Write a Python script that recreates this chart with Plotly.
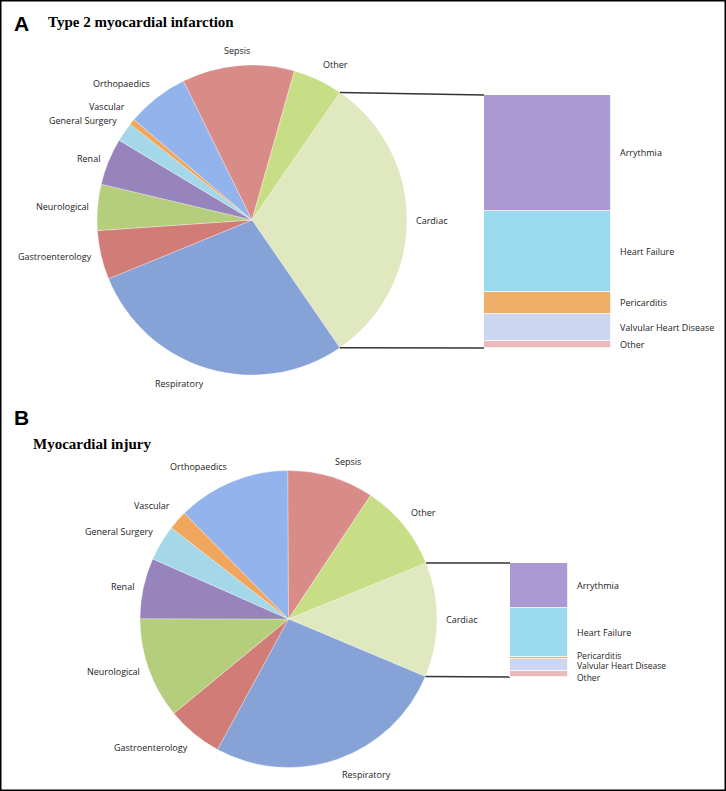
import math
import plotly.graph_objects as go

# ---------------- data ----------------
causes = ["Cardiac", "Respiratory", "Gastroenterology", "Neurological", "Renal",
          "General Surgery", "Vascular", "Orthopaedics", "Sepsis", "Other"]
t2mi_values = [30.8, 28.4, 5.1, 4.8, 4.9, 2.0, 0.6, 6.5, 11.7, 5.2]
injury_values = [12.5, 26.6, 6.1, 11.0, 6.6, 3.9, 2.1, 12.3, 9.4, 9.5]

cardiac_sub = ["Arrythmia", "Heart Failure", "Pericarditis", "Valvular Heart Disease", "Other"]
t2mi_cardiac = [45.8, 32.0, 8.7, 10.7, 2.8]
injury_cardiac = [39.5, 43.0, 1.8, 10.5, 5.2]

panel_letters = ["A", "B"]
panel_titles = ["Type 2 myocardial infarction", "Myocardial injury"]

# ---------------- style ----------------
W, H = 726, 791
cause_colors = ["#e0e8bf", "#87a2d6", "#d27c78", "#b4ce7b", "#9784bd",
                "#a4d8e8", "#f0a65c", "#92b3ec", "#d98b88", "#c8de86"]
sub_colors = ["#ab99d3", "#9ad9ee", "#eeae68", "#cdd6f0", "#eab9b9"]
LABEL_FONT = dict(family="Open Sans", size=9, color="#222")
label_nudge = {"Vascular": -2, "General Surgery": 1}  # small vertical nudges (px) for crowded labels
# crowded bar labels in panel B: (yshift px, font size)
bar_label_style_b = {"Pericarditis": (3, 8.5), "Valvular Heart Disease": (0, 8.5), "Other": (-3, 8.5)}


def px(x):
    return x / W


def py(y):
    return 1 - y / H


panels = [
    dict(values=t2mi_values, sub=t2mi_cardiac, cx=252, cy=220, r=155, rot=34.6,
         bar=(484, 611, 95, 348), xa="x", ya="y", crowd={}),
    dict(values=injury_values, sub=injury_cardiac, cx=288.5, cy=619, r=148.5, rot=67.8,
         bar=(510, 568, 563, 677), xa="x2", ya="y2", crowd=bar_label_style_b),
]

fig = go.Figure()
annotations = []
shapes = []

for p in panels:
    cx, cy, r = p["cx"], p["cy"], p["r"]
    fig.add_trace(go.Pie(
        labels=causes, values=p["values"], sort=False, direction="clockwise",
        rotation=p["rot"], textinfo="none", hoverinfo="label+percent",
        marker=dict(colors=cause_colors, line=dict(color="rgba(255,255,255,0.6)", width=0.5)),
        domain=dict(x=[px(cx - r), px(cx + r)], y=[py(cy + r), py(cy - r)]),
        showlegend=False,
    ))
    total = sum(p["values"])
    start = 90 - p["rot"]
    ang = start
    edges = []
    for lab, v in zip(causes, p["values"]):
        a0 = ang
        a1 = ang - 360 * v / total
        edges.append((a0, a1))
        mid = math.radians((a0 + a1) / 2)
        c, s = math.cos(mid), math.sin(mid)
        rr = r + 7
        xa = "left" if c > 0.15 else ("right" if c < -0.15 else "center")
        ya = "bottom" if s > 0.5 else ("top" if s < -0.5 else "middle")
        annotations.append(dict(
            x=px(cx + rr * c), y=py(cy - rr * s), xref="paper", yref="paper",
            yshift=-label_nudge.get(lab, 0),
            text=lab, showarrow=False, xanchor=xa, yanchor=ya, font=LABEL_FONT))
        ang = a1

    # connector lines from cardiac slice edges to bar corners
    x0b, x1b, ytop, ybot = p["bar"]
    a_top, a_bot = edges[0]
    for a, yb in ((a_top, ytop), (a_bot, ybot)):
        t = math.radians(a)
        shapes.append(dict(type="line", xref="paper", yref="paper",
                           x0=px(cx + r * math.cos(t)), y0=py(cy - r * math.sin(t)),
                           x1=px(x0b), y1=py(yb), line=dict(color="#333", width=1.5)))

    # stacked bar of cardiac subgroups (bottom to top: Other ... Arrythmia)
    order = list(range(len(cardiac_sub)))[::-1]
    cum = 0
    subtotal = sum(p["sub"])
    for i in order:
        fig.add_trace(go.Bar(
            x=["Cardiac"], y=[p["sub"][i]], name=cardiac_sub[i],
            marker=dict(color=sub_colors[i], line=dict(color="white", width=0.8)),
            xaxis=p["xa"], yaxis=p["ya"], showlegend=False, width=1,
        ))
        ys, fs = p["crowd"].get(cardiac_sub[i], (0, LABEL_FONT["size"]))
        annotations.append(dict(
            x=1, xshift=7, y=cum + p["sub"][i] / 2, yshift=ys, xref=p["xa"] + " domain", yref=p["ya"],
            text=cardiac_sub[i], showarrow=False, xanchor="left", yanchor="middle",
            font=dict(LABEL_FONT, size=fs)))
        cum += p["sub"][i]
    p["subtotal"] = subtotal

# panel letters and titles
annotations += [
    dict(x=px(12), y=py(24), text="<b>A</b>", xanchor="left", yanchor="middle",
         font=dict(family="Liberation Sans", size=21, color="black")),
    dict(x=px(46), y=py(22), text="<b>" + panel_titles[0] + "</b>", xanchor="left", yanchor="middle",
         font=dict(family="Liberation Serif", size=15, color="black")),
    dict(x=px(12), y=py(418), text="<b>B</b>", xanchor="left", yanchor="middle",
         font=dict(family="Liberation Sans", size=21, color="black")),
    dict(x=px(31), y=py(444), text="<b>" + panel_titles[1] + "</b>", xanchor="left", yanchor="middle",
         font=dict(family="Liberation Serif", size=15, color="black")),
]
for a in annotations[-4:]:
    a.update(xref="paper", yref="paper", showarrow=False)

# outer frame
shapes.append(dict(type="rect", xref="paper", yref="paper", x0=0, y0=0, x1=1, y1=1,
                   line=dict(color="black", width=3), fillcolor="rgba(0,0,0,0)"))

ax_off = dict(visible=False, showgrid=False, zeroline=False, fixedrange=True)
A, B = panels
fig.update_layout(
    width=W, height=H, margin=dict(l=0, r=0, t=0, b=0),
    paper_bgcolor="white", plot_bgcolor="rgba(0,0,0,0)",
    barmode="stack", bargap=0,
    xaxis=dict(domain=[px(A["bar"][0]), px(A["bar"][1])], anchor="y", **ax_off),
    yaxis=dict(domain=[py(A["bar"][3]), py(A["bar"][2])], anchor="x",
               range=[0, A["subtotal"]], **ax_off),
    xaxis2=dict(domain=[px(B["bar"][0]), px(B["bar"][1])], anchor="y2", **ax_off),
    yaxis2=dict(domain=[py(B["bar"][3]), py(B["bar"][2])], anchor="x2",
                range=[0, B["subtotal"]], **ax_off),
    annotations=annotations, shapes=shapes,
)

fig.write_html("out.html", config={"displayModeBar": False},
               post_script="document.body.style.margin='0';document.body.style.overflow='hidden';")
